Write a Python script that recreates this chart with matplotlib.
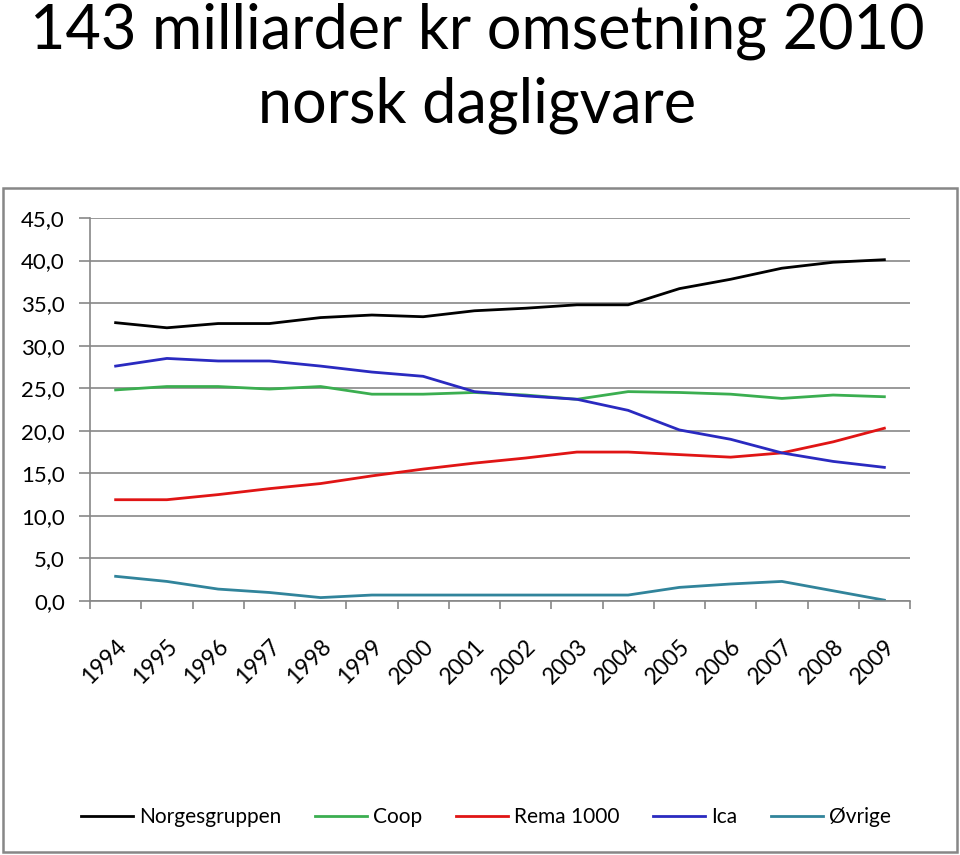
import matplotlib
matplotlib.use("Agg")
import matplotlib.pyplot as plt
from matplotlib.patches import Rectangle
from matplotlib.ticker import MultipleLocator, FuncFormatter

years = ["1994", "1995", "1996", "1997", "1998", "1999", "2000", "2001",
         "2002", "2003", "2004", "2005", "2006", "2007", "2008", "2009"]

norgesgruppen = [32.7, 32.1, 32.6, 32.6, 33.3, 33.6, 33.4, 34.1,
                 34.4, 34.8, 34.8, 36.7, 37.8, 39.1, 39.8, 40.1]
coop = [24.8, 25.2, 25.2, 24.9, 25.2, 24.3, 24.3, 24.5,
        24.2, 23.7, 24.6, 24.5, 24.3, 23.8, 24.2, 24.0]
rema = [11.9, 11.9, 12.5, 13.2, 13.8, 14.7, 15.5, 16.2,
        16.8, 17.5, 17.5, 17.2, 16.9, 17.4, 18.7, 20.3]
ica = [27.6, 28.5, 28.2, 28.2, 27.6, 26.9, 26.4, 24.6,
       24.1, 23.7, 22.4, 20.1, 19.0, 17.4, 16.4, 15.7]
ovrige = [2.9, 2.3, 1.4, 1.0, 0.4, 0.7, 0.7, 0.7,
          0.7, 0.7, 0.7, 1.6, 2.0, 2.3, 1.2, 0.1]

series_names = ["Norgesgruppen", "Coop", "Rema 1000", "Ica", "Øvrige"]
series_values = [norgesgruppen, coop, rema, ica, ovrige]
series_colors = ["#000000", "#3BAE50", "#E01515", "#2A2AC0", "#31849B"]

title_lines = ["143 milliarder kr omsetning 2010", "norsk dagligvare"]

FONT = ["Lato", "DejaVu Sans"]
plt.rcParams["font.family"] = FONT

W, H = 960, 855
fig = plt.figure(figsize=(W / 100, H / 100), dpi=100)

def fx(px):
    return px / W

def fy(py):
    return 1 - py / H

# Title
fig.text(fx(477), fy(48), title_lines[0], ha="center", va="baseline",
         fontsize=44, color="black")
fig.text(fx(477), fy(123), title_lines[1], ha="center", va="baseline",
         fontsize=44, color="black")

# Chart border
fig.patches.append(Rectangle((fx(3), fy(852)), fx(957) - fx(3), fy(188) - fy(852),
                             transform=fig.transFigure, fill=False,
                             edgecolor="#878787", linewidth=1.8))

ax = fig.add_axes([fx(90), fy(601), fx(910) - fx(90), fy(218) - fy(601)])
x = list(range(len(years)))
for name, vals, col in zip(series_names, series_values, series_colors):
    ax.plot(x, vals, color=col, linewidth=2.0, label=name, solid_joinstyle="round")

ax.set_ylim(0, 45)
ax.set_xlim(-0.5, len(years) - 0.5)
ax.yaxis.set_major_locator(MultipleLocator(5))
ax.yaxis.set_major_formatter(FuncFormatter(lambda v, p: f"{v:.1f}".replace(".", ",")))
ax.grid(axis="y", color="#878787", linewidth=1.2)
ax.set_axisbelow(True)
for s in ["top", "right"]:
    ax.spines[s].set_visible(False)
for s in ["left", "bottom"]:
    ax.spines[s].set_color("#878787")
    ax.spines[s].set_linewidth(1.2)

ax.set_xticks([i - 0.5 for i in range(len(years) + 1)], minor=False)
ax.set_xticklabels([""] * (len(years) + 1))
ax.set_xticks(x, minor=True)
ax.set_xticklabels(years, minor=True, rotation=45, ha="right", va="top",
                   rotation_mode="anchor", fontsize=16.5)
ax.tick_params(axis="x", which="major", direction="out", length=6,
               color="#878787", width=1.2)
ax.tick_params(axis="x", which="minor", length=0, pad=25)
ax.tick_params(axis="y", direction="out", length=8, color="#878787", width=1.2,
               labelsize=16, pad=10)

handles, labels = ax.get_legend_handles_labels()
fig.legend(handles, labels, loc="center", bbox_to_anchor=(fx(486), fy(817)),
           ncol=5, frameon=False, fontsize=15, handlelength=2.5,
           handletextpad=0.3, columnspacing=1.6)

fig.savefig("out.png", dpi=100)
